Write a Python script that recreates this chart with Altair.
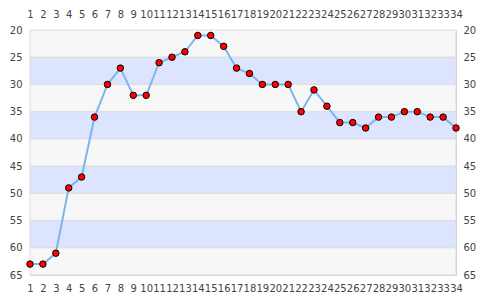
import altair as alt
import pandas as pd

xs = list(range(1, 35))
ys = [63, 63, 61, 49, 47, 36, 30, 27, 32, 32, 26, 25, 24, 21, 21, 23, 27, 28, 30, 30,
      30, 35, 31, 34, 37, 37, 38, 36, 36, 35, 35, 36, 36, 38]

band_starts = [20, 25, 30, 35, 40, 45, 50, 55, 60]
band_kind = ["a", "b", "a", "b", "a", "b", "a", "b", "a"]

df = pd.DataFrame({"x": xs, "y": ys})
bands = pd.DataFrame({"y0": band_starts, "y1": [b + 5 for b in band_starts], "k": band_kind})

xscale = alt.Scale(domain=[1, 34], nice=False, zero=False)
yscale = alt.Scale(domain=[20, 65], reverse=True, nice=False, zero=False)

lab = dict(labelFont="DejaVu Sans", labelFontSize=10, labelColor="#444", ticks=False,
           domain=False, title=None, labelOverlap=False, grid=False)

band_layer = alt.Chart(bands).mark_rect(stroke="#dddddd", strokeWidth=1).encode(
    x=alt.value(0), x2=alt.value(426),
    y=alt.Y("y0:Q", scale=yscale, axis=alt.Axis(orient="left", values=list(range(20, 70, 5)),
                                                  labelPadding=8, **lab)),
    y2="y1:Q",
    fill=alt.Color("k:N", scale=alt.Scale(domain=["a", "b"], range=["#f7f7f7", "#dde4fd"]), legend=None),
)

right_axis = alt.Chart(bands).mark_rect(opacity=0).encode(
    y=alt.Y("y0:Q", scale=yscale, axis=alt.Axis(orient="right", values=list(range(20, 70, 5)),
                                                  labelPadding=7, **lab)),
    y2="y1:Q",
    x=alt.value(0), x2=alt.value(1),
)

line = alt.Chart(df).mark_line(color="#7cb5ec", strokeWidth=2).encode(
    x=alt.X("x:Q", scale=xscale, axis=alt.Axis(orient="bottom", values=xs, labelPadding=8,
                                                 labelFlush=False, **lab)),
    y=alt.Y("y:Q", scale=yscale, axis=None),
)

top_axis = alt.Chart(df).mark_point(opacity=0).encode(
    x=alt.X("x:Q", scale=xscale, axis=alt.Axis(orient="top", values=xs, labelPadding=11,
                                                 labelFlush=False, **lab)),
    y=alt.Y("y:Q", scale=yscale, axis=None),
)

pts = alt.Chart(df).mark_point(filled=True, fill="#ff0000", stroke="#000000", strokeWidth=1,
                               size=42, opacity=1, shape="circle").encode(
    x=alt.X("x:Q", scale=xscale, axis=None),
    y=alt.Y("y:Q", scale=yscale, axis=None),
)

chart = alt.layer(band_layer, right_axis, line, top_axis, pts).resolve_axis(
    x="independent", y="independent"
).properties(
    width=426, height=245,
    autosize=alt.AutoSizeParams(type="none"),
    padding={"left": 30, "top": 30, "right": 29, "bottom": 25},
    background="white",
).configure_view(stroke="#cccccc", strokeWidth=1)

chart.save("out.html", embed_options={"renderer": "svg", "actions": False})
